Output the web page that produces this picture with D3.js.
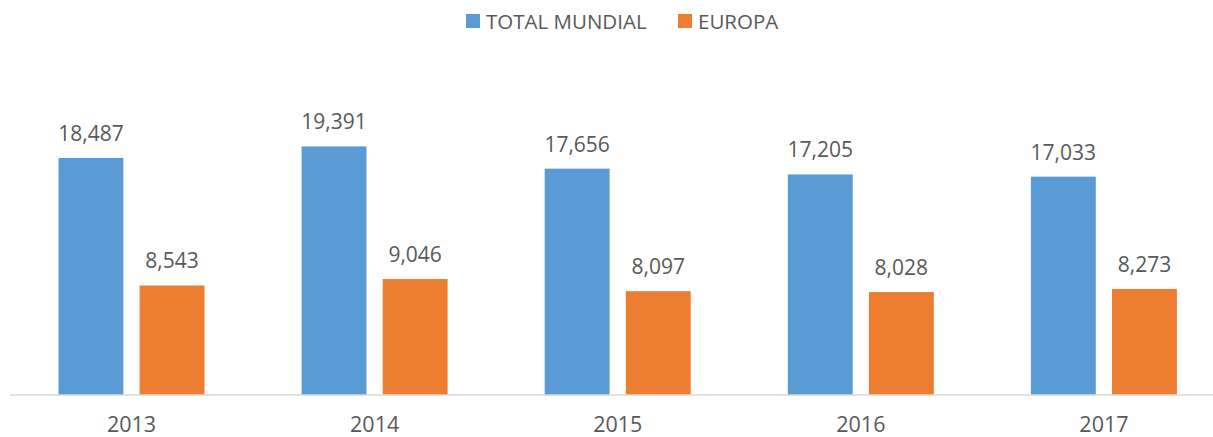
<!DOCTYPE html>
<html>
<head>
<meta charset="utf-8">
<script src="https://cdn.jsdelivr.net/npm/d3@7"></script>
<style>
  body { margin: 0; background: #fff; }
  text { font-family: "Open Sans", sans-serif; fill: #595959; }
</style>
</head>
<body>
<div id="container"></div>
<script>
// chart data
let years = ["2013", "2014", "2015", "2016", "2017"];
let seriesNames = ["TOTAL MUNDIAL", "EUROPA"];
let totalMundial = [18487, 19391, 17656, 17205, 17033];
let europa = [8543, 9046, 8097, 8028, 8273];
let colors = ["#5B9BD5", "#ED7D31"];

let svgWidth = 1213;
let svgHeight = 437;

let viz = d3.select("#container")
  .append("svg")
    .attr("width", svgWidth)
    .attr("height", svgHeight);

let rows = years.map((y, i) => ({year: y, values: [totalMundial[i], europa[i]]}));

let x = d3.scaleBand()
  .domain(years)
  .range([10, 1225.5]);

let xInner = d3.scaleBand()
  .domain([0, 1])
  .range([48.5, 194.5])
  .paddingInner(0.2);

let y = d3.scaleLinear()
  .domain([0, 25000])
  .range([395, 74.5]);

let groups = viz.selectAll("g.year")
  .data(rows)
  .enter().append("g")
    .attr("class", "year")
    .attr("transform", d => "translate(" + x(d.year) + ",0)");

groups.selectAll("rect")
  .data(d => d.values)
  .enter().append("rect")
    .attr("x", (d, i) => xInner(i))
    .attr("width", xInner.bandwidth())
    .attr("y", d => y(d))
    .attr("height", d => y(0) - y(d))
    .attr("fill", (d, i) => colors[i]);

groups.selectAll("text.value")
  .data(d => d.values)
  .enter().append("text")
    .attr("class", "value")
    .attr("x", (d, i) => xInner(i) + xInner.bandwidth() / 2)
    .attr("y", d => y(d) - 17)
    .attr("text-anchor", "middle")
    .style("font-size", "21px")
    .text(d => d3.format(",")(d));

// x axis
let xAxis = viz.append("g")
  .attr("transform", "translate(0," + y(0) + ")")
  .call(d3.axisBottom(x).tickSize(0).tickPadding(22));
xAxis.select(".domain").attr("stroke", "#D9D9D9").attr("stroke-width", 1.5)
  .attr("d", "M10,0H1213");
xAxis.selectAll("text")
  .style("font-size", "21.5px")
  .style("font-family", "'Open Sans', sans-serif")
  .attr("fill", "#595959");

// legend
let legendItems = [
  {name: seriesNames[0], color: colors[0], x: 466},
  {name: seriesNames[1], color: colors[1], x: 678}
];
let legend = viz.selectAll("g.legend")
  .data(legendItems)
  .enter().append("g")
    .attr("class", "legend")
    .attr("transform", d => "translate(" + d.x + ",14)");
legend.append("rect")
  .attr("width", 14).attr("height", 14)
  .attr("fill", d => d.color);
legend.append("text")
  .attr("x", 20).attr("y", 14.5)
  .style("font-size", "20.5px")
  .text(d => d.name);
</script>
</body>
</html>
